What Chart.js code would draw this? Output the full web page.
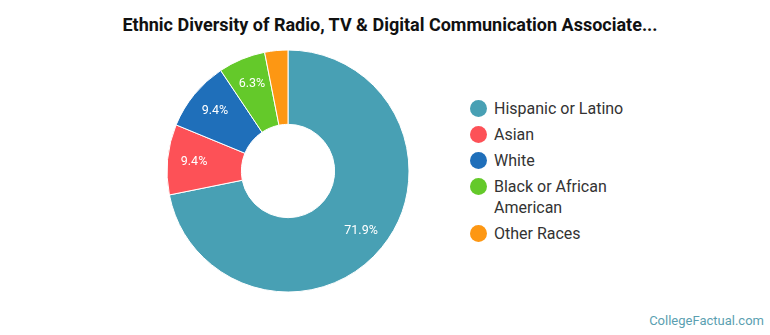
<!DOCTYPE html>
<html>
<head>
<meta charset="utf-8">
<script src="https://cdn.jsdelivr.net/npm/chart.js@4.4.1/dist/chart.umd.min.js"></script>
<style>
  html, body { margin: 0; padding: 0; background: #fff; }
  body { width: 770px; height: 335px; position: relative; overflow: hidden; font-family: Roboto, "Open Sans", sans-serif; }
  #title { position: absolute; left: 0; top: 14px; width: 780px; text-align: center; font-weight: bold; font-size: 18px; color: #111; }
  #pie-box { position: absolute; left: 163px; top: 46px; width: 250px; height: 250px; }
  #legend { position: absolute; left: 470px; top: 98px; list-style: none; margin: 0; padding: 0; }
  #legend li { position: relative; padding-left: 24px; font-size: 16px; line-height: 21px; color: #333; margin-bottom: 5px; width: 160px; }
  #legend li span { position: absolute; left: 0; top: 2px; width: 17px; height: 17px; border-radius: 50%; }
  #credit { position: absolute; right: 6px; top: 313px; font-size: 13px; color: #5b9fb1; }
</style>
</head>
<body>
<div id="title">Ethnic Diversity of Radio, TV &amp; Digital Communication Associate...</div>
<div id="pie-box"><canvas id="pie"></canvas></div>
<ul id="legend"></ul>
<div id="credit">CollegeFactual.com</div>
<script>
const categories = ['Hispanic or Latino', 'Asian', 'White', 'Black or African American', 'Other Races'];
const legendLines = [['Hispanic or Latino'], ['Asian'], ['White'], ['Black or African', 'American'], ['Other Races']];
const shares = [71.9, 9.4, 9.4, 6.3, 3.1];
const colors = ['#48a0b4', '#fd5157', '#1f6fba', '#64c92a', '#fd9713'];

// legend
const legend = document.getElementById('legend');
legendLines.forEach((lines, i) => {
    const li = document.createElement('li');
    const dot = document.createElement('span');
    dot.style.background = colors[i];
    li.appendChild(dot);
    li.innerHTML += lines.join('<br>');
    legend.appendChild(li);
});

// procenttext i tårtbitarna
const sliceLabels = {
    id: 'sliceLabels',
    afterDatasetsDraw(chart) {
        const ctx = chart.ctx;
        const meta = chart.getDatasetMeta(0);
        ctx.save();
        ctx.font = '12.5px Roboto, sans-serif';
        ctx.fillStyle = '#fff';
        ctx.textAlign = 'center';
        ctx.textBaseline = 'middle';
        meta.data.forEach((arc, i) => {
            if (shares[i] < 5) return;
            const mid = (arc.startAngle + arc.endAngle) / 2;
            const r = arc.outerRadius * 0.78;
            ctx.fillText(shares[i].toFixed(1) + '%', arc.x + Math.cos(mid) * r, arc.y + Math.sin(mid) * r);
        });
        ctx.restore();
    }
};

new Chart(document.getElementById('pie'), {
    type: 'doughnut',
    data: {
        labels: categories,
        datasets: [{
            data: shares,
            backgroundColor: colors,
            borderColor: '#fff',
            borderWidth: 1,
            radius: 121,
            cutout: 48
        }]
    },
    options: {
        responsive: true,
        maintainAspectRatio: false,
        animation: false,
        plugins: { legend: { display: false }, tooltip: { enabled: false } }
    },
    plugins: [sliceLabels]
});
</script>
</body>
</html>
